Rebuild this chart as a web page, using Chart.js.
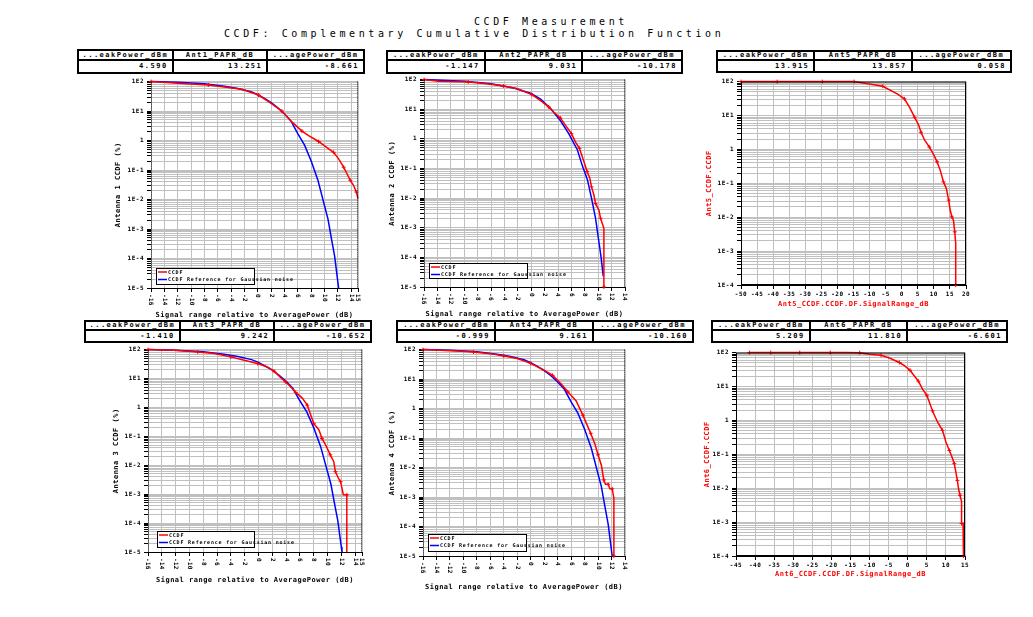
<!DOCTYPE html>
<html><head><meta charset="utf-8">
<script src="https://cdn.jsdelivr.net/npm/chart.js@4.4.1/dist/chart.umd.min.js"></script>
<style>
body{margin:0;background:#fff;width:1033px;height:617px;overflow:hidden;position:relative;font-family:'DejaVu Sans Mono',monospace;}
.ttl{position:absolute;font-size:10px;letter-spacing:3.6px;white-space:nowrap;line-height:12px;color:#000}
canvas{position:absolute}
.tb{position:absolute;box-sizing:border-box;border:2px solid #000;background:#fff}
.cell{position:absolute;box-sizing:border-box;display:flex;align-items:center;font-size:7px;line-height:7px;font-weight:bold;letter-spacing:1.5px;white-space:nowrap}
</style></head><body>
<div class="ttl" style="left:474px;top:16px">CCDF Measurement</div>
<div class="ttl" style="left:224px;top:28px">CCDF: Complementary Cumulative Distribution Function</div>
<script>
// ---------------- DATA ----------------
const xTicksA = [-16,-14,-12,-10,-8,-6,-4,-2,0,2,4,6,8,10,12,14,15];
const xLabelsA = ['-16','-14','-12','-10','-8','-6','-4','-2','0','2','4','6','8','10','12','14','15'];
const xTicksB = [-16,-14,-12,-10,-8,-6,-4,-2,0,2,4,6,8,10,12,14];
const xLabelsB = ['-16','-14','-12','-10','-8','-6','-4','-2','0','2','4','6','8','10','12','14'];
const xTicksC = [-50,-45,-40,-35,-30,-25,-20,-15,-10,-5,0,5,10,15,20];
const xLabelsC = ['-50','-45','-40','-35','-30','-25','-20','-15','-10','-5','0','5','10','15','20'];
const xTicksD = [-45,-40,-35,-30,-25,-20,-15,-10,-5,0,5,10,15];
const xLabelsD = ['-45','-40','-35','-30','-25','-20','-15','-10','-5','0','5','10','15'];
const yDecades5 = [100,10,1,0.1,0.01,0.001,0.0001,0.00001];
const yLabels5 = ['1E2','1E1','1','1E-1','1E-2','1E-3','1E-4','1E-5'];
const yDecades4 = [100,10,1,0.1,0.01,0.001,0.0001];
const yLabels4 = ['1E2','1E1','1','1E-1','1E-2','1E-3','1E-4'];

const tableHeads = ['...eakPower_dBm','_PAPR_dB','...agePower_dBm'];
const ant1Table = ['4.590','13.251','-8.661'];
const ant2Table = ['-1.147','9.031','-10.178'];
const ant5Table = ['13.915','13.857','0.058'];
const ant3Table = ['-1.410','9.242','-10.652'];
const ant4Table = ['-0.999','9.161','-10.160'];
const ant6Table = ['5.209','11.810','-6.601'];

// Gaussian reference (antennas 1, 3, 4)
const gaussX = [-16,-12,-8,-5,-3,-1,0,1,2,3,4,5,6,7,8,9,10,10.5,11,11.5,12,12.1];
const gaussY = [100,95,84,69,58,45,36,27,19.5,13,8,4.5,1.7,0.7,0.2,0.045,0.006,0.0022,0.0005,0.00012,0.000015,0.00001];
// Antenna 2 reference as drawn
const ref2X = [-16,-10,-6,-2.6,0,1.4,2.9,4.4,5.6,6.9,7.6,8.4,9.0,9.6,10.1,10.45,10.75];
const ref2Y = [100,88,73,52,34,22,10.5,4,1.5,0.42,0.13,0.041,0.01,0.0021,0.00034,0.000093,0.000023];

const ant1X = [-16,-12,-7.4,-2.4,0.1,2.1,3.6,5.1,6.6,7.6,9.1,10.6,11.35,12.1,12.85,13.35,13.85,14.35,14.75,15];
const ant1Y = [100,88,77,55,35,17.5,10,4.3,2.1,1.47,0.93,0.52,0.40,0.24,0.125,0.075,0.045,0.030,0.018,0.0107];

const ant2X = [-16,-13.9,-9.4,-6.65,-4.15,-2.15,0.1,1.35,2.6,3.35,4.35,5.1,6.0,6.6,7.2,7.95,8.35,8.75,9.0,9.35,9.6,10.1,10.35,10.85,10.85];
const ant2Y = [100,88,83,73,61,50,31,20,12,8.1,5.1,2.9,1.5,0.79,0.48,0.15,0.078,0.047,0.024,0.013,0.0066,0.004,0.0021,0.00096,0.00001];

const ant5X = [-50,-44,-38.75,-29.4,-24.7,-20,-14.8,-10.1,-5.9,-1.25,0.83,2.4,4.0,5.2,6.0,7.1,8.6,9.9,11.0,12.0,13.0,13.9,14.6,15.1,15.6,16.1,16.5,16.8,16.8];
const ant5Y = [100,100,100,100,100,100,100,85,73,43,31,17.6,8.9,5.4,3.2,1.9,1.17,0.71,0.43,0.24,0.11,0.069,0.032,0.016,0.0102,0.0081,0.0037,0.0017,0.0001];

const ant3X = [-16,-12.2,-8.8,-6.4,-4.0,-2.07,-0.14,1.3,2.26,3.2,3.9,4.66,5.4,6.35,7.07,7.55,8.0,8.75,9.2,9.8,10.4,10.9,11.15,11.6,11.9,12.3,12.8,12.8];
const ant3Y = [100,95,83,73,56,43,33,25,17.9,10.8,7.7,5.2,3.3,2.1,1.2,0.57,0.28,0.17,0.085,0.047,0.023,0.0135,0.006,0.0035,0.0027,0.00095,0.00095,0.00001];

const ant4X = [-16,-11,-8.5,-6,-4,-2,0,2,3.25,4.5,5.5,6.75,7.75,8.25,8.9,9.5,10,10.5,10.85,11.1,11.5,11.75,12.1,12.35,12.35];
const ant4Y = [100,90,83,73,61,50,34,20,13.4,7.0,3.7,1.8,0.6,0.32,0.145,0.066,0.027,0.0117,0.0038,0.0027,0.0027,0.0019,0.0019,0.00091,0.00001];

const ant6X = [-41.5,-40,-35.9,-32,-28.3,-24.3,-20.3,-16.3,-12.6,-10,-7,-4.8,-2.2,-0.87,0.6,1.74,2.8,3.9,5.0,5.65,6.5,7.8,9.1,10,10.9,11.6,12.2,12.6,13.0,13.3,13.7,14.1,14.1,14.5,14.6];
const ant6Y = [100,100,100,100,100,100,100,100,99,89,83,69,51,41,30,20.4,14.3,8.3,5.5,3.5,1.9,0.9,0.51,0.23,0.13,0.083,0.053,0.030,0.017,0.0098,0.0062,0.0040,0.00091,0.00091,0.0001];

// ---------------- HELPERS ----------------
const F = "'DejaVu Sans Mono', monospace";
const RED = '#ff0000', BLUE = '#0000ff';
function zip(xs, ys){ return xs.map((x,i)=>({x:x, y:ys[i]})); }
function logTicks(min,max){
  const t=[]; const e0=Math.round(Math.log10(min)), e1=Math.round(Math.log10(max));
  for(let e=e0;e<e1;e++){ for(let m=1;m<10;m++) t.push(m*Math.pow(10,e)); }
  t.push(max); return t;
}
function redSet(xs,ys){ return {label:'CCDF', data:zip(xs,ys), borderColor:RED, backgroundColor:RED, borderWidth:1.5,
  pointStyle:'cross', pointRadius:c=>(c.dataIndex%2?0:2), pointBorderWidth:1, pointBorderColor:RED, tension:0, clip:4}; }
function blueSet(xs,ys){ return {label:'CCDF Reference for Gaussian noise', data:zip(xs,ys), borderColor:BLUE, backgroundColor:BLUE, borderWidth:1.5,
  pointRadius:0, tension:0, clip:4}; }

function table(x0,x1,y0,y1,ym,ant,vals){
  const d=document.createElement('div'); d.className='tb';
  d.style.left=x0+'px'; d.style.top=y0+'px'; d.style.width=(x1-x0)+'px'; d.style.height=(y1-y0)+'px';
  const iw=(x1-x0-4), cw=iw/3, hh=ym-y0-2, vh=y1-ym-2;
  const heads=[tableHeads[0], ant+tableHeads[1], tableHeads[2]];
  for(let i=0;i<3;i++){
    const h=document.createElement('div'); h.className='cell';
    h.style.cssText+=`left:${i*cw}px;top:0;width:${cw}px;height:${hh}px;justify-content:center;border-bottom:2px solid #000;`+(i<2?'border-right:2px solid #000;':'');
    h.textContent=heads[i]; d.appendChild(h);
    const v=document.createElement('div'); v.className='cell';
    v.style.cssText+=`left:${i*cw}px;top:${hh}px;width:${cw}px;height:${vh}px;justify-content:flex-end;padding-right:4px;`+(i<2?'border-right:2px solid #000;':'');
    v.textContent=vals[i]; d.appendChild(v);
  }
  document.body.appendChild(d);
}

function plot(cfg){
  const lh=8;
  const cl=Math.round(cfg.yTitleX-lh/2), ct=cfg.area[1]-6, cr=cfg.area[2]+8, cb=Math.round(cfg.xTitleY+lh/2);
  const cv=document.createElement('canvas'); cv.width=cr-cl; cv.height=cb-ct;
  cv.style.left=cl+'px'; cv.style.top=ct+'px'; cv.style.width=(cr-cl)+'px'; cv.style.height=(cb-ct)+'px';
  document.body.appendChild(cv);
  const WY=cfg.area[0]-cl, HX=cb-cfg.area[3];
  const yt=logTicks(cfg.yMin,100);
  const deco={
    id:'deco',
    beforeDraw(chart){ chart.ctx.letterSpacing='0.5px'; },
    afterDraw(chart){
      const ctx=chart.ctx, a=chart.chartArea, xs=chart.scales.x;
      ctx.save();
      ctx.strokeStyle='#000'; ctx.lineWidth=1;
      if(cfg.dashed){
        ctx.setLineDash([1,1]);
        ctx.beginPath(); ctx.moveTo(a.left+0.5,a.top); ctx.lineTo(a.left+0.5,a.bottom);
        ctx.moveTo(a.right-0.5,a.top); ctx.lineTo(a.right-0.5,a.bottom); ctx.stroke();
        ctx.setLineDash([]);
      } else {
        ctx.strokeRect(a.left+0.5,a.top+0.5,a.right-a.left-1,a.bottom-a.top-1);
      }
      if(cfg.rotated){
        ctx.font='bold 6px '+F; ctx.fillStyle='#000'; ctx.textAlign='left'; ctx.textBaseline='middle';
        ctx.letterSpacing='0.3px';
        xs.ticks.forEach((t,i)=>{ const px=xs.getPixelForValue(t.value);
          ctx.save(); ctx.translate(px,a.bottom+6); ctx.rotate(Math.PI/2); ctx.fillText(cfg.xLabels[i],0,0); ctx.restore(); });
      }
      if(cfg.legend){
        const L=cfg.legend, bx=a.left+L.dx, by=a.bottom-L.dy-L.h;
        ctx.fillStyle='#fff'; ctx.fillRect(bx,by,L.w,L.h);
        ctx.strokeStyle='#000'; ctx.lineWidth=1; ctx.strokeRect(bx+0.5,by+0.5,L.w,L.h);
        ctx.font='bold 5px '+F; ctx.letterSpacing='0.8px'; ctx.textAlign='left'; ctx.textBaseline='middle';
        const ds=chart.data.datasets;
        [ds[0],ds[1]].forEach((d,k)=>{ const yy=by+4+k*7.5;
          ctx.strokeStyle=d.borderColor; ctx.lineWidth=1.5; ctx.beginPath(); ctx.moveTo(bx+2,yy); ctx.lineTo(bx+11,yy); ctx.stroke();
          ctx.fillStyle='#000'; ctx.fillText(d.label,bx+12,yy+0.5); });
      }
      ctx.restore();
    }
  };
  new Chart(cv,{
    type:'line',
    data:{datasets:cfg.datasets},
    options:{
      responsive:false, animation:false, devicePixelRatio:1,
      layout:{padding:{left:0,top:6,right:8,bottom:0}},
      plugins:{legend:{display:false},tooltip:{enabled:false}},
      scales:{
        x:{type:'linear', min:cfg.xMin, max:cfg.xMax,
          afterBuildTicks:s=>{ s.ticks=cfg.xTicks.map(v=>({value:v})); },
          afterFit:s=>{ s.height=HX; },
          ticks:{display:!cfg.rotated, autoSkip:false, maxRotation:0, minRotation:0, padding:2, color:'#000',
            font:{family:F,size:6,weight:'bold'}, callback:(v,i)=>cfg.xLabels[i]},
          grid:{color:'#c0c0c0', lineWidth:1, tickColor:'#000', tickLength:4, drawTicks:true},
          border:{display:true,color:'#000',width:1},
          title:{display:true,text:cfg.xTitle,color:cfg.titleColor,font:{family:F,size:7,weight:'bold',lineHeight:8/7},padding:0}
        },
        y:{type:'logarithmic', min:cfg.yMin, max:100,
          afterBuildTicks:s=>{ s.ticks=yt.map(v=>({value:v})); },
          afterFit:s=>{ s.width=WY; },
          ticks:{autoSkip:false, padding:3, color:'#000', font:{family:F,size:6,weight:'bold'},
            callback:(v)=>{ const k=cfg.yDecades.findIndex(d=>Math.abs(Math.log10(v)-Math.log10(d))<1e-6); return k>=0?cfg.yLabels[k]:''; }},
          grid:{color:'#c0c0c0', lineWidth:1, tickColor:'#000', tickLength:4, drawTicks:true},
          border:{display:false},
          title:{display:true,text:cfg.yTitle,color:cfg.titleColor,font:{family:F,size:7,weight:'bold',lineHeight:8/7},padding:0}
        }
      }
    },
    plugins:[deco]
  });
}

// ---------------- BUILD ----------------
const XT = 'Signal range relative to AveragePower (dB)';
table(77,365,49,74,61,'Ant1',ant1Table);
table(386,683,50,74,61,'Ant2',ant2Table);
table(716,1012,50,73,61,'Ant5',ant5Table);
table(84,372,320,343,331,'Ant3',ant3Table);
table(396,694,320,343,331,'Ant4',ant4Table);
table(711,1008,320,343,331,'Ant6',ant6Table);

plot({area:[151,81,358,288], yTitleX:118, xTitleY:315, xMin:-16, xMax:15, xTicks:xTicksA, xLabels:xLabelsA,
  yMin:1e-5, yDecades:yDecades5, yLabels:yLabels5, yTitle:'Antenna 1 CCDF (%)', xTitle:XT, titleColor:'#000',
  dashed:true, rotated:true, legend:{dx:5,dy:4,w:98,h:16}, datasets:[redSet(ant1X,ant1Y), blueSet(gaussX,gaussY)]});
plot({area:[424,79,625,287], yTitleX:392, xTitleY:314, xMin:-16, xMax:14, xTicks:xTicksB, xLabels:xLabelsB,
  yMin:1e-5, yDecades:yDecades5, yLabels:yLabels5, yTitle:'Antenna 2 CCDF (%)', xTitle:XT, titleColor:'#000',
  dashed:true, rotated:true, legend:{dx:5,dy:9,w:98,h:15}, datasets:[redSet(ant2X,ant2Y), blueSet(ref2X,ref2Y)]});
plot({area:[741,81,966,285], yTitleX:709, xTitleY:304, xMin:-50, xMax:20, xTicks:xTicksC, xLabels:xLabelsC,
  yMin:1e-4, yDecades:yDecades4, yLabels:yLabels4, yTitle:'Ant5_CCDF.CCDF', xTitle:'Ant5_CCDF.CCDF.DF.SignalRange_dB', titleColor:RED,
  dashed:false, rotated:false, legend:null, datasets:[redSet(ant5X,ant5Y)]});
plot({area:[148,349,362,552], yTitleX:116, xTitleY:580, xMin:-16, xMax:15, xTicks:xTicksA, xLabels:xLabelsA,
  yMin:1e-5, yDecades:yDecades5, yLabels:yLabels5, yTitle:'Antenna 3 CCDF (%)', xTitle:XT, titleColor:'#000',
  dashed:true, rotated:true, legend:{dx:9,dy:5,w:97,h:16}, datasets:[redSet(ant3X,ant3Y), blueSet(gaussX,gaussY)]});
plot({area:[423,349,625,556], yTitleX:392, xTitleY:587, xMin:-16, xMax:14, xTicks:xTicksB, xLabels:xLabelsB,
  yMin:1e-5, yDecades:yDecades5, yLabels:yLabels5, yTitle:'Antenna 4 CCDF (%)', xTitle:XT, titleColor:'#000',
  dashed:true, rotated:true, legend:{dx:5,dy:5,w:98,h:17}, datasets:[redSet(ant4X,ant4Y), blueSet(gaussX,gaussY)]});
plot({area:[736,352,965,556], yTitleX:707, xTitleY:574, xMin:-45, xMax:15, xTicks:xTicksD, xLabels:xLabelsD,
  yMin:1e-4, yDecades:yDecades4, yLabels:yLabels4, yTitle:'Ant6_CCDF.CCDF', xTitle:'Ant6_CCDF.CCDF.DF.SignalRange_dB', titleColor:RED,
  dashed:false, rotated:false, legend:null, datasets:[redSet(ant6X,ant6Y)]});
</script>
</body></html>
